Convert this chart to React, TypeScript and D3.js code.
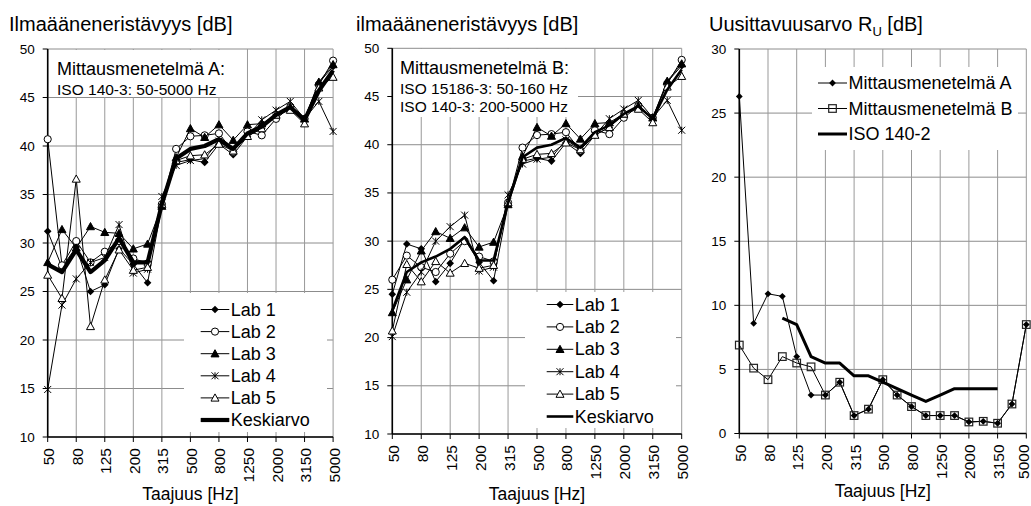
import React, { useEffect, useRef } from 'react';
import * as d3 from 'd3';

// third-octave bands
const bands = ['50', '63', '80', '100', '125', '160', '200', '250', '315', '400', '500', '630', '800', '1000', '1250', '1600', '2000', '2500', '3150', '4000', '5000'];
const tickBands = ['50', '80', '125', '200', '315', '500', '800', '1250', '2000', '3150', '5000'];

// Mittausmenetelmä A
const labA1 = [31.2, 27.5, 29.6, 25.0, 25.7, 29.4, 27.8, 25.9, 33.8, 38.3, 38.6, 38.3, 40.2, 39.1, 41.0, 41.8, 43.2, 44.0, 42.8, 46.5, 48.2];
const labA2 = [40.7, 27.7, 30.2, 28.0, 29.1, 30.2, 28.4, 27.9, 34.0, 39.7, 41.0, 41.1, 41.3, 39.4, 41.5, 41.1, 42.8, 44.0, 42.8, 46.3, 48.8];
const labA3 = [28.0, 31.4, 29.5, 31.7, 31.1, 31.0, 29.4, 29.9, 33.8, 38.8, 41.8, 40.9, 42.2, 40.6, 42.2, 42.3, 43.2, 44.0, 42.8, 46.6, 48.4];
const labA4 = [14.9, 23.6, 26.3, 28.0, 28.5, 31.9, 26.9, 27.3, 34.8, 38.0, 38.5, 38.7, 40.5, 39.5, 41.0, 42.7, 43.7, 44.6, 42.8, 44.6, 41.5];
const labA5 = [26.7, 24.3, 36.6, 21.4, 26.2, 29.3, 27.2, 27.5, 34.0, 38.5, 39.0, 39.1, 40.2, 39.5, 41.0, 41.8, 43.2, 43.7, 42.3, 46.0, 47.1];
const meanA = [27.8, 27.0, 29.3, 27.0, 28.2, 30.5, 28.0, 28.0, 34.0, 38.7, 39.7, 40.0, 40.7, 39.7, 41.3, 42.0, 43.2, 44.0, 42.7, 45.7, 47.8];

// Mittausmenetelmä B
const labB1 = [24.5, 29.7, 29.2, 25.8, 27.7, 30.2, 27.8, 25.9, 33.8, 38.3, 38.6, 38.3, 40.2, 39.1, 41.0, 41.8, 43.2, 44.0, 42.8, 46.5, 48.2];
const labB2 = [26.0, 28.5, 27.3, 26.8, 28.7, 30.0, 28.4, 27.9, 34.0, 39.7, 41.0, 41.1, 41.3, 39.4, 41.5, 41.1, 42.8, 44.0, 42.8, 46.3, 48.8];
const labB3 = [22.6, 26.0, 29.0, 31.0, 30.3, 31.4, 29.4, 29.9, 33.8, 38.8, 41.8, 40.9, 42.2, 40.6, 42.2, 42.3, 43.2, 44.0, 42.8, 46.6, 48.4];
const labB4 = [20.1, 24.7, 26.8, 30.0, 31.5, 32.7, 26.9, 27.3, 34.8, 38.0, 38.5, 38.7, 40.5, 39.5, 41.0, 42.7, 43.7, 44.6, 42.8, 44.6, 41.5];
const labB5 = [20.7, 27.6, 25.8, 27.9, 26.7, 27.7, 27.2, 27.5, 34.0, 38.5, 39.0, 39.1, 40.2, 39.5, 41.0, 41.8, 43.2, 43.7, 42.3, 46.0, 47.1];
const meanB = [22.8, 26.8, 27.8, 28.4, 29.2, 30.4, 28.0, 28.0, 34.0, 38.7, 39.7, 40.0, 40.7, 39.7, 41.3, 42.0, 43.2, 44.0, 42.7, 45.7, 47.8];

// Uusittavuusarvo R_U
const ruA = [26.3, 8.6, 10.9, 10.7, 6.0, 3.0, 3.0, 4.0, 1.4, 1.9, 4.2, 3.0, 2.1, 1.4, 1.4, 1.4, 0.9, 0.95, 0.8, 2.3, 8.5];
const ruB = [6.9, 5.1, 4.2, 6.0, 5.5, 5.2, 3.0, 4.0, 1.4, 1.9, 4.2, 3.0, 2.1, 1.4, 1.4, 1.4, 0.9, 0.95, 0.8, 2.3, 8.5];
const iso1402 = [null, null, null, 9.0, 8.5, 6.0, 5.5, 5.5, 4.5, 4.5, 4.0, 3.5, 3.0, 2.5, 3.0, 3.5, 3.5, 3.5, 3.5, null, null];

const labNames = ['Lab 1', 'Lab 2', 'Lab 3', 'Lab 4', 'Lab 5', 'Keskiarvo'];
const ruNames = ['Mittausmenetelmä A', 'Mittausmenetelmä B', 'ISO 140-2'];

const FONT = '"Liberation Sans", Arial, sans-serif';

const drawMarker = (g, type, x, y) => {
  if (type === 'diamond') {
    const s = 3.8;
    g.append('path').attr('d', `M${x},${y - s}L${x + s},${y}L${x},${y + s}L${x - s},${y}Z`).attr('fill', '#000');
  } else if (type === 'sdiamond') {
    const s = 3.4;
    g.append('path').attr('d', `M${x},${y - s}L${x + s},${y}L${x},${y + s}L${x - s},${y}Z`).attr('fill', '#000');
  } else if (type === 'circle') {
    g.append('circle').attr('cx', x).attr('cy', y).attr('r', 3.6).attr('fill', '#fff').attr('stroke', '#000').attr('stroke-width', 1);
  } else if (type === 'triangle' || type === 'otriangle') {
    const s = 4;
    g.append('path')
      .attr('d', `M${x},${y - s}L${x + s},${y + s * 0.8}L${x - s},${y + s * 0.8}Z`)
      .attr('fill', type === 'triangle' ? '#000' : '#fff')
      .attr('stroke', '#000')
      .attr('stroke-width', 1);
  } else if (type === 'star') {
    const s = 3.5;
    g.append('path')
      .attr('d', `M${x - s},${y - s}L${x + s},${y + s}M${x - s},${y + s}L${x + s},${y - s}M${x},${y - s}L${x},${y + s}`)
      .attr('stroke', '#000')
      .attr('stroke-width', 1)
      .attr('fill', 'none');
  } else if (type === 'square') {
    const s = 3.8;
    g.append('rect').attr('x', x - s).attr('y', y - s).attr('width', 2 * s).attr('height', 2 * s)
      .attr('fill', 'none').attr('stroke', '#222').attr('stroke-width', 1.2);
  }
};

const App = () => {
  const chartRef = useRef();

  useEffect(() => {
    document.body.style.margin = '0';
    d3.select(chartRef.current).select('svg').remove();

    const svg = d3
      .select(chartRef.current)
      .append('svg')
      .attr('width', 1031)
      .attr('height', 506)
      .style('display', 'block')
      .style('background', '#fff')
      .style('font-family', FONT);

    const panels = [
      {
        left: 47.7, right: 333.1, top: 49, bottom: 437, domain: [10, 50], step: 5,
        title: 'Ilmaääneneristävyys [dB]', titleX: 9, axisTitleY: 500,
        series: [
          { values: labA1, marker: 'diamond', width: 1 },
          { values: labA2, marker: 'circle', width: 1 },
          { values: labA3, marker: 'triangle', width: 1 },
          { values: labA4, marker: 'star', width: 1 },
          { values: labA5, marker: 'otriangle', width: 1 },
          { values: meanA, marker: null, width: 4.2 },
        ],
        names: labNames,
        legend: { box: [184, 293, 143, 139], x0: 200.7, x1: 229.3, y0: 309.5, dy: 22.1 },
        note: { box: [50, 50, 187, 47], lines: [['Mittausmenetelmä A:', 18, 57, 75], ['ISO 140-3: 50-5000 Hz', 15.5, 57, 95]] },
      },
      {
        left: 392.3, right: 681.7, top: 48.3, bottom: 434, domain: [10, 50], step: 5,
        title: 'ilmaääneneristävyys [dB]', titleX: 356, axisTitleY: 500,
        series: [
          { values: labB1, marker: 'diamond', width: 1 },
          { values: labB2, marker: 'circle', width: 1 },
          { values: labB3, marker: 'triangle', width: 1 },
          { values: labB4, marker: 'star', width: 1 },
          { values: labB5, marker: 'otriangle', width: 1 },
          { values: meanB, marker: null, width: 2.6 },
        ],
        names: labNames,
        legend: { box: [525, 292, 151, 136], x0: 546.7, x1: 573.3, y0: 304.5, dy: 22.4 },
        note: {
          box: [393, 49, 185, 68],
          lines: [
            ['Mittausmenetelmä B:', 18, 400, 74],
            ['ISO 15186-3: 50-160 Hz', 15.5, 400, 93.5],
            ['ISO 140-3: 200-5000 Hz', 15.5, 400, 112],
          ],
        },
      },
      {
        left: 739.3, right: 1026.3, top: 49, bottom: 433.5, domain: [0, 30], step: 5,
        title: null, titleX: 709, axisTitleY: 497,
        series: [
          { values: ruA, marker: 'sdiamond', width: 1 },
          { values: ruB, marker: 'square', width: 1 },
          { values: iso1402, marker: null, width: 3 },
        ],
        names: ruNames,
        legend: { box: [812, 67, 206, 83], x0: 818, x1: 847, y0: 83, dy: 25.5 },
        note: null,
      },
    ];

    panels.forEach((p) => {
      const g = svg.append('g');
      const x = d3.scalePoint().domain(bands).range([p.left, p.right]);
      const y = d3.scaleLinear().domain(p.domain).range([p.bottom, p.top]);
      const yTicks = d3.range(p.domain[0], p.domain[1] + 0.01, p.step);

      // gridlines
      g.selectAll('.hg')
        .data(yTicks)
        .enter()
        .append('line')
        .attr('x1', p.left)
        .attr('x2', p.right)
        .attr('y1', (d) => y(d))
        .attr('y2', (d) => y(d))
        .attr('stroke', '#8c8c8c')
        .attr('stroke-width', 1);
      g.selectAll('.vg')
        .data(tickBands)
        .enter()
        .append('line')
        .attr('x1', (d) => x(d))
        .attr('x2', (d) => x(d))
        .attr('y1', p.top)
        .attr('y2', p.bottom)
        .attr('stroke', '#999')
        .attr('stroke-width', 1);

      // white boxes behind legend and note
      const [lx, ly, lw, lh] = p.legend.box;
      g.append('rect').attr('x', lx).attr('y', ly).attr('width', lw).attr('height', lh).attr('fill', '#fff');
      if (p.note) {
        const [nx, ny, nw, nh] = p.note.box;
        g.append('rect').attr('x', nx).attr('y', ny).attr('width', nw).attr('height', nh).attr('fill', '#fff');
      }

      // axes
      g.append('line').attr('x1', p.left).attr('x2', p.left).attr('y1', p.top).attr('y2', p.bottom).attr('stroke', '#000').attr('stroke-width', 1.6);
      g.append('line').attr('x1', p.left).attr('x2', p.right).attr('y1', p.bottom).attr('y2', p.bottom).attr('stroke', '#000').attr('stroke-width', 1.6);
      g.selectAll('.yt')
        .data(yTicks)
        .enter()
        .append('line')
        .attr('x1', p.left - 5)
        .attr('x2', p.left)
        .attr('y1', (d) => y(d))
        .attr('y2', (d) => y(d))
        .attr('stroke', '#000');
      g.selectAll('.xt')
        .data(tickBands)
        .enter()
        .append('line')
        .attr('x1', (d) => x(d))
        .attr('x2', (d) => x(d))
        .attr('y1', p.bottom)
        .attr('y2', p.bottom + 5)
        .attr('stroke', '#000');

      g.selectAll('.yl')
        .data(yTicks)
        .enter()
        .append('text')
        .attr('x', p.left - 13)
        .attr('y', (d) => y(d))
        .attr('text-anchor', 'end')
        .attr('dominant-baseline', 'central')
        .attr('font-size', 13.5)
        .text((d) => d);
      // keep the last label inside the 1031 px page
      g.selectAll('.xl')
        .data(tickBands)
        .enter()
        .append('text')
        .attr('transform', (d) => `translate(${Math.min(x(d) + 1, 1023)},${p.bottom + 11}) rotate(-90)`)
        .attr('text-anchor', 'end')
        .attr('dominant-baseline', 'central')
        .attr('font-size', 15.5)
        .text((d) => d);

      g.append('text')
        .attr('x', (p.left + p.right) / 2)
        .attr('y', p.axisTitleY)
        .attr('text-anchor', 'middle')
        .attr('font-size', 17.5)
        .text('Taajuus [Hz]');

      // title
      if (p.title) {
        g.append('text').attr('x', p.titleX).attr('y', 31).attr('font-size', 20).text(p.title);
      } else {
        const t = g.append('text').attr('x', p.titleX).attr('y', 31).attr('font-size', 20);
        t.append('tspan').text('Uusittavuusarvo R');
        t.append('tspan').attr('font-size', 13).attr('dy', 5).text('U');
        t.append('tspan').attr('dy', -5).text(' [dB]');
      }

      // note
      if (p.note) {
        p.note.lines.forEach(([txt, fs, tx, ty]) => {
          g.append('text').attr('x', tx).attr('y', ty).attr('font-size', fs).text(txt);
        });
      }

      // series
      p.series.forEach((s) => {
        const line = d3
          .line()
          .defined((d) => d != null)
          .x((d, i) => x(bands[i]))
          .y((d) => y(d));
        g.append('path')
          .attr('d', line(s.values))
          .attr('fill', 'none')
          .attr('stroke', '#000')
          .attr('stroke-width', s.width)
          .attr('stroke-linejoin', 'round');
        if (s.marker) {
          s.values.forEach((v, i) => {
            if (v != null) drawMarker(g, s.marker, x(bands[i]), y(v));
          });
        }
      });

      // legend
      p.series.forEach((s, i) => {
        const cy = p.legend.y0 + i * p.legend.dy;
        g.append('line')
          .attr('x1', p.legend.x0)
          .attr('x2', p.legend.x1)
          .attr('y1', cy)
          .attr('y2', cy)
          .attr('stroke', '#000')
          .attr('stroke-width', s.width);
        if (s.marker) drawMarker(g, s.marker, (p.legend.x0 + p.legend.x1) / 2, cy);
        g.append('text')
          .attr('x', p.legend.x1 + 1.5)
          .attr('y', cy)
          .attr('dominant-baseline', 'central')
          .attr('font-size', 18)
          .text(p.names[i]);
      });
    });
  }, []);

  return (
    <div>
      <div ref={chartRef}></div>
    </div>
  );
};

export default App;
